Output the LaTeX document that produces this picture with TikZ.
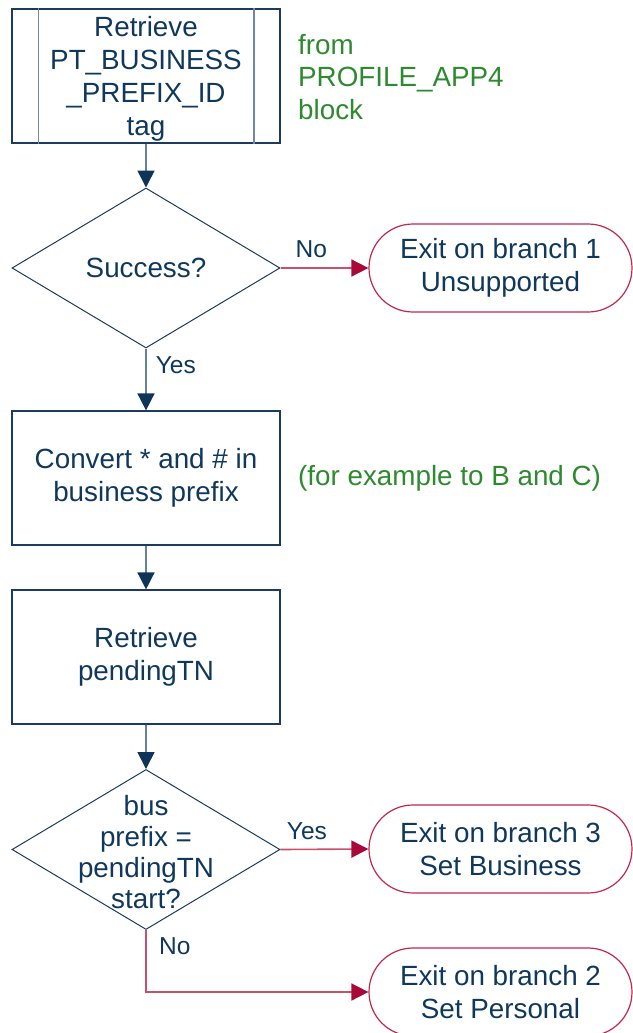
\documentclass[tikz,border=0pt]{standalone}
\usepackage{fontspec}
\setmainfont{Liberation Sans}
\usetikzlibrary{arrows.meta,shapes.geometric}
\definecolor{navytxt}{HTML}{0F385C}
\definecolor{boxline}{HTML}{1C3B5E}
\definecolor{innerline}{HTML}{6F89A3}
\definecolor{arrline}{HTML}{64829C}
\definecolor{arrtip}{HTML}{0E3558}
\definecolor{redline}{HTML}{C8506C}
\definecolor{redtip}{HTML}{A8093A}
\definecolor{termline}{HTML}{C0284F}
\definecolor{notegreen}{HTML}{2E8A2E}
\tikzset{
  x=1pt, y=-1pt,
  every node/.style={font=\fontsize{27.8}{32.8}\selectfont, text=navytxt},
  procbox/.style={draw=boxline, line width=1.2pt, rectangle, minimum width=268pt, minimum height=134pt, inner sep=0pt, align=center},
  diam/.style={draw=boxline, line width=1pt, diamond, minimum width=268pt, minimum height=160pt, inner sep=0pt},
  dtext/.style={align=center, inner sep=0pt},
  term/.style={draw=termline, line width=1.2pt, rectangle, rounded corners=44pt, minimum width=263pt, minimum height=88pt, inner sep=0pt, align=center},
  note/.style={text=notegreen, align=left, anchor=west, inner sep=0pt},
  lbl/.style={font=\fontsize{24.5}{28}\selectfont, inner sep=0pt},
  navyarrow/.style={draw=arrline, line width=1.6pt, -{Triangle[length=17pt,width=17pt,color=arrtip]}},
  redarrow/.style={draw=redline, line width=1.6pt, -{Triangle[length=17pt,width=17pt,color=redtip]}},
}
\begin{document}
\begin{tikzpicture}
\useasboundingbox (0,0) rectangle (632,1033);
% top predefined process
\node[procbox] (b1) at (146,76) {};
\node[dtext] (b1t) at (146,79) {Retrieve\\PT\_BUSINESS\\\_PREFIX\_ID\\tag};
\draw[innerline, line width=1.8pt] ([xshift=27pt]b1.north west) -- ([xshift=27pt]b1.south west);
\draw[innerline, line width=1.8pt] ([xshift=-27pt]b1.north east) -- ([xshift=-27pt]b1.south east);
\node[note] (n1) at (298,77) {from\\PROFILE\_APP4\\block};
% decision 1
\node[diam] (d1) at (146,268) {};
\node[dtext] (d1t) at (d1) {Success?};
\node[term] (t1) at (500.5,268) {Exit on branch 1\\Unsupported};
% box 2
\node[procbox] (b2) at (146,478) {Convert * and \# in\\business prefix};
\node[note] (n2) at (298,478) {(for example to B and C)};
% box 3
\node[procbox] (b3) at (146,657) {Retrieve\\pendingTN};
% decision 2
\node[diam] (d2) at (146,849.5) {};
\node[dtext, font=\fontsize{27.8}{31}\selectfont] (d2t) at (146,852) {bus\\prefix =\\pendingTN\\start?};
\node[term] (t3) at (500.5,849) {Exit on branch 3\\Set Business};
\node[term] (t2) at (500.5,992) {Exit on branch 2\\Set Personal};
\coordinate (c2) at (146,992);
% connectors
\draw[navyarrow] (b1.south) -- (d1.north);
\draw[redarrow] (d1.east) -- (t1.west) node[lbl, pos=0.35, above=9pt] (l1) {No};
\draw[navyarrow] (d1.south) -- (b2.north) node[lbl, pos=0.27, right=9pt] (l2) {Yes};
\draw[navyarrow] (b2.south) -- (b3.north);
\draw[navyarrow] (b3.south) -- (d2.north);
\draw[redarrow] (d2.east) -- (t3.west) node[lbl, pos=0.3, above=9pt] (l3) {Yes};
\draw[redarrow] (d2.south) -- (c2) -- (t2.west);
\node[lbl, anchor=west] (l4) at (159,946) {No};
\end{tikzpicture}
\end{document}
